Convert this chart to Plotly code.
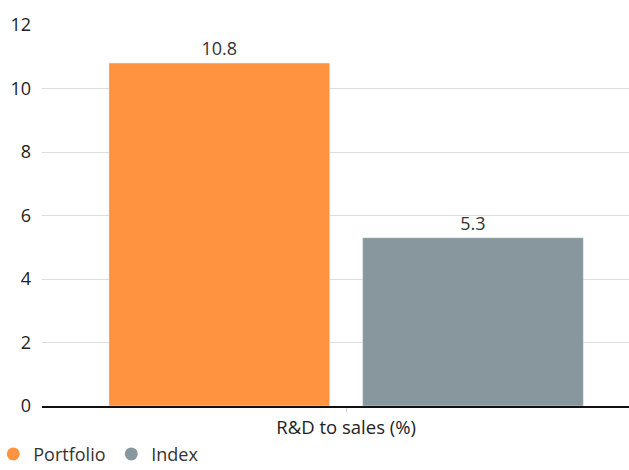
import plotly.graph_objects as go

categories = ["R&D to sales (%)"]
series_names = ["Portfolio", "Index"]
portfolio = [10.8]
index_vals = [5.3]
colors = ["#FF9340", "#87979D"]
y_ticks = [0, 2, 4, 6, 8, 10, 12]

fig = go.Figure()
for name, vals, col in zip(series_names, [portfolio, index_vals], colors):
    fig.add_trace(go.Bar(
        x=categories, y=vals, name=name, marker_color=col,
        text=[f"{v:.1f}" for v in vals], textposition="outside",
        textfont=dict(size=18, color="#333333"), cliponaxis=False,
        showlegend=False,
    ))
    fig.add_trace(go.Scatter(
        x=[None], y=[None], mode="markers", name=name,
        marker=dict(symbol="circle", size=13, color=col),
    ))

fig.update_layout(
    width=629, height=470,
    margin=dict(l=42, r=0, t=25, b=64, autoexpand=False),
    paper_bgcolor="white", plot_bgcolor="white",
    font=dict(family="Open Sans", size=18, color="#222222"),
    barmode="group", bargap=0.166, bargroupgap=0.13,
    xaxis=dict(range=[-0.5, 0.465], showline=True, linecolor="#111111", linewidth=1.5,
               ticks="outside", ticklen=4, tickcolor="#cccccc", showgrid=False,
               tickfont=dict(size=18.5, color="#222222")),
    yaxis=dict(range=[0, 12], tickvals=y_ticks, showgrid=True, gridcolor="#dddddd",
               gridwidth=1, zeroline=False, ticks="", ticklabelstandoff=10,
               tickfont=dict(size=18, color="#222222")),
    legend=dict(orientation="h", x=-0.083, xanchor="left", y=-0.175, yanchor="bottom",
                font=dict(size=18, color="#333333"), itemwidth=30, tracegroupgap=0,
                entrywidth=73, entrywidthmode="pixels",
                bgcolor="rgba(0,0,0,0)"),
)

fig.write_html("out.html")
